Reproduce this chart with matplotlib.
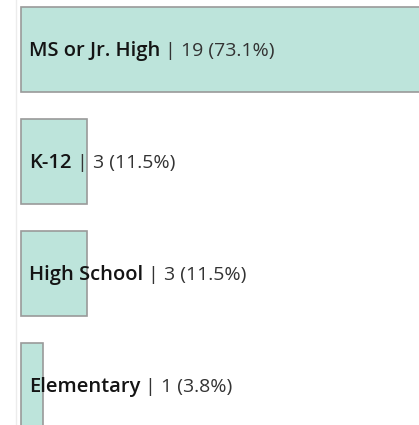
import matplotlib
matplotlib.use("Agg")
import matplotlib.pyplot as plt

# school levels, ordered as shown top to bottom
levels = ["MS or Jr. High", "K-12", "High School", "Elementary"]
counts = [19, 3, 3, 1]
shares = ["73.1%", "11.5%", "11.5%", "3.8%"]

plt.rcParams["font.family"] = ["Open Sans", "DejaVu Sans"]

fig = plt.figure(figsize=(4.19, 4.25), dpi=100)
ax = fig.add_axes([16 / 419, 0, 403 / 419, 1])

pos = range(len(levels))
ax.barh(pos, counts, height=0.76, color="#bde4db", edgecolor="#9a9a9a", linewidth=1.2)

ax.set_xlim(-5 / 22, 403 / 22 - 5 / 22)
ax.set_ylim(375.5 / 112, -49.5 / 112)

for s in ["top", "right", "bottom"]:
    ax.spines[s].set_visible(False)
ax.spines["left"].set_color("#ececec")
ax.spines["left"].set_linewidth(1)
ax.set_xticks([])
ax.set_yticks([])

# category name first, then the count placed right after it on the same baseline
names = []
for i, name in enumerate(levels):
    t = ax.annotate(name, xy=(0, i), xytext=(5.8, -5), textcoords="offset points",
                    ha="left", va="baseline", fontsize=14.5, color="#141414", fontweight="semibold")
    names.append(t)

fig.canvas.draw()
r = fig.canvas.get_renderer()
for i, (t, n, pct) in enumerate(zip(names, counts, shares)):
    bb = t.get_window_extent(r)
    x_end = ax.transData.inverted().transform((bb.x1, 0))[0]
    ax.annotate(f" | {n} ({pct})", xy=(x_end, i), xytext=(0, -5), textcoords="offset points",
                ha="left", va="baseline", fontsize=14, color="#333333")

fig.savefig("out.png", dpi=100)
